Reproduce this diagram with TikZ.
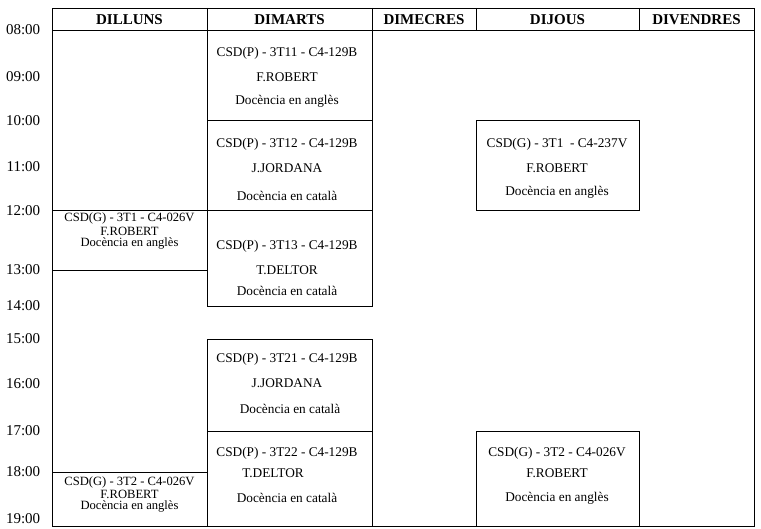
\documentclass[tikz,border=0pt]{standalone}
\usepackage{fontspec}
\setmainfont{Liberation Serif}
\begin{document}
\begin{tikzpicture}[x=1pt,y=-1pt,line width=0.9pt,
  hdr/.style={font=\fontsize{15}{15}\selectfont\bfseries},
  tm/.style={font=\fontsize{15}{15}\selectfont,anchor=east},
  tx/.style={font=\fontsize{13.3}{13}\selectfont},
  ts/.style={font=\fontsize{12.6}{11}\selectfont,inner sep=0pt}]
\useasboundingbox (0,0) rectangle (761,529);
\draw (52,8) rectangle (754,526);
\draw (52,30) -- (754,30);
\foreach \x in {207,372,476,639} \draw (\x,8) -- (\x,30);
\node[hdr] (h1) at (129.5,20) {DILLUNS};
\node[hdr] (h2) at (289.5,20) {DIMARTS};
\node[hdr] (h3) at (424,20) {DIMECRES};
\node[hdr] (h4) at (557.5,20) {DIJOUS};
\node[hdr] (h5) at (696.5,20) {DIVENDRES};
\foreach \t/\y in {08:00/30,09:00/77,10:00/121,11:00/167,12:00/211,13:00/270,14:00/306,15:00/339,16:00/384,17:00/431,18:00/472,19:00/519}
  \node[tm] (t\y) at (44,\y) {\t};
% DIMARTS
\draw (207,30) rectangle (372,120);
\node[tx] (a1) at (287,53) {CSD(P) - 3T11 - C4-129B};
\node[tx] (a2) at (287,77) {F.ROBERT};
\node[tx] (a3) at (287,101) {Docència en anglès};
\draw (207,120) rectangle (372,210);
\node[tx] (b1) at (287,144) {CSD(P) - 3T12 - C4-129B};
\node[tx] (b2) at (287,168) {J.JORDANA};
\node[tx] (b3) at (287,196) {Docència en català};
\draw (207,210) rectangle (372,306);
\node[tx] (c1) at (287,246) {CSD(P) - 3T13 - C4-129B};
\node[tx] (c2) at (287,270) {T.DELTOR};
\node[tx] (c3) at (287,291) {Docència en català};
\draw (207,339) rectangle (372,431);
\node[tx] (d1) at (287,359) {CSD(P) - 3T21 - C4-129B};
\node[tx] (d2) at (287,383) {J.JORDANA};
\node[tx] (d3) at (290,409) {Docència en català};
\draw (207,431) rectangle (372,526);
\node[tx] (e1) at (287,453) {CSD(P) - 3T22 - C4-129B};
\node[tx] (e2) at (273,473) {T.DELTOR};
\node[tx] (e3) at (287,498) {Docència en català};
% DIJOUS
\draw (476,120) rectangle (639,210);
\node[tx] (f1) at (557,144) {CSD(G) - 3T1 \ - C4-237V};
\node[tx] (f2) at (557,168) {F.ROBERT};
\node[tx] (f3) at (557,192) {Docència en anglès};
\draw (476,431) rectangle (639,526);
\node[tx] (g1) at (557,453) {CSD(G) - 3T2 - C4-026V};
\node[tx] (g2) at (557,473) {F.ROBERT};
\node[tx] (g3) at (557,498) {Docència en anglès};
% DILLUNS
\draw (52,210) rectangle (207,270);
\node[ts] (i1) at (129.5,218.5) {CSD(G) - 3T1 - C4-026V};
\node[ts] (i2) at (129.5,231) {F.ROBERT};
\node[ts] (i3) at (129.5,243.5) {Docència en anglès};
\draw (52,472) rectangle (207,526);
\node[ts] (j1) at (129.5,482.5) {CSD(G) - 3T2 - C4-026V};
\node[ts] (j2) at (129.5,494.5) {F.ROBERT};
\node[ts] (j3) at (129.5,506.5) {Docència en anglès};
\end{tikzpicture}
\end{document}
